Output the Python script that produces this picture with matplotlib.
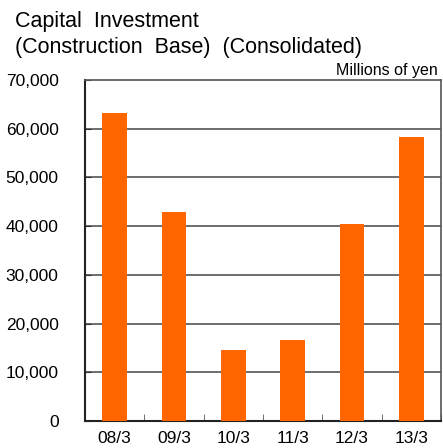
import matplotlib
matplotlib.use("Agg")
import matplotlib.pyplot as plt
import numpy as np

categories = ["08/3", "09/3", "10/3", "11/3", "12/3", "13/3"]
values = [63200, 43000, 14600, 16600, 40400, 58400]
yticks = [0, 10000, 20000, 30000, 40000, 50000, 60000, 70000]
ytick_labels = ["0", "10,000", "20,000", "30,000", "40,000", "50,000", "60,000", "70,000"]

plt.rcParams['font.family'] = ['Liberation Sans', 'DejaVu Sans']

W, H = 443, 448
fig = plt.figure(figsize=(W/100, H/100), dpi=100)
ax = fig.add_axes([85/W, 1 - 421/H, 356/W, (421-80)/H])

x = np.arange(len(categories))
ax.bar(x, values, width=0.42, color="#FF6600", zorder=3)
ax.set_xlim(-0.5, len(categories) - 0.5)
ax.set_ylim(0, 70000)
ax.set_yticks(yticks)
ax.set_yticklabels(ytick_labels, fontsize=12.5)
ax.set_xticks(x)
ax.set_xticklabels(categories, fontsize=12.5)
ax.tick_params(axis='x', length=0, pad=7)
ax.tick_params(axis='y', direction='in', length=4, pad=19, color='#333333')
ax.set_xticks(np.arange(len(categories) + 1) - 0.5, minor=True)
ax.tick_params(axis='x', which='minor', direction='in', length=5, color='#555555')
for yl in yticks[1:-1]:
    ax.axhline(yl, color='#555555', lw=1.2, zorder=1)
for s in ['top', 'right']:
    ax.spines[s].set_color('#555555')
    ax.spines[s].set_linewidth(1.2)
for s in ['left', 'bottom']:
    ax.spines[s].set_color('#222222')
    ax.spines[s].set_linewidth(1.5)

fig.text(15/W, 1 - 22/H, "Capital  Investment", fontsize=15.5, va='center', ha='left')
fig.text(15/W, 1 - 47/H, "(Construction  Base)  (Consolidated)", fontsize=15.5, va='center', ha='left')
fig.text(438/W, 1 - 71/H, "Millions of yen", fontsize=11.5, va='center', ha='right')

fig.savefig("out.png", dpi=100)
